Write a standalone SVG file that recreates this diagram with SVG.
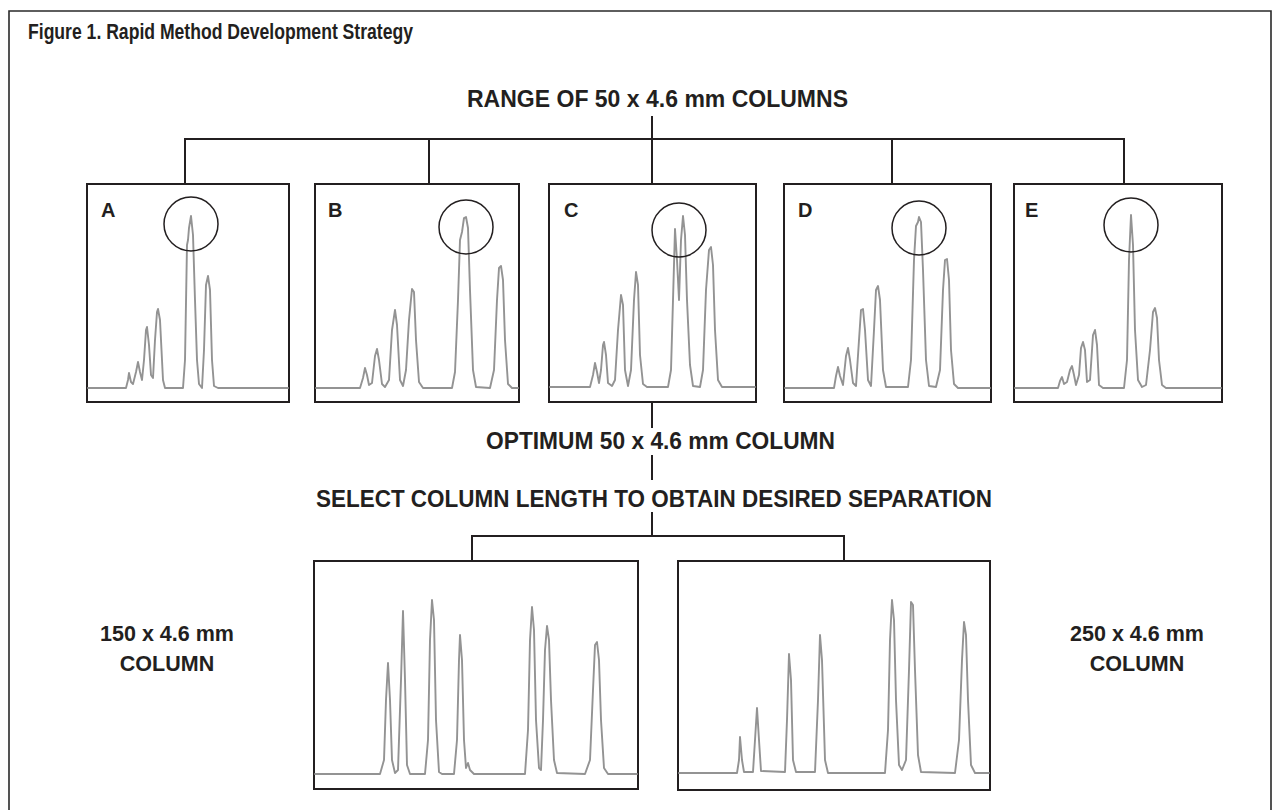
<svg xmlns="http://www.w3.org/2000/svg" width="1280" height="810" viewBox="0 0 1280 810">
<style>
.bg{fill:#ffffff}
.frame{fill:none;stroke:#2a2a2a;stroke-width:1.6}
.box{fill:#ffffff;stroke:#231f20;stroke-width:2}
.conn{fill:none;stroke:#231f20;stroke-width:2}
.trace{fill:none;stroke:#939393;stroke-width:1.9;stroke-linejoin:round;stroke-linecap:round}
.ring{fill:none;stroke:#231f20;stroke-width:1.5}
.hd{font-family:"Liberation Sans",Arial,sans-serif;font-weight:bold;fill:#231f20}
.lbl{font-family:"Liberation Sans",Arial,sans-serif;font-weight:bold;font-size:20px;fill:#231f20}
.side{font-family:"Liberation Sans",Arial,sans-serif;font-weight:bold;font-size:21.5px;fill:#231f20;text-anchor:middle}
</style>
<rect class="bg" x="0" y="0" width="1280" height="810"/>
<path class="frame" d="M9,812 V11 H1271 V812"/>
<text class="hd" x="28" y="39" font-size="22" textLength="385" lengthAdjust="spacingAndGlyphs">Figure 1.  Rapid Method Development Strategy</text>
<text class="hd" x="467" y="107" font-size="23" textLength="381" lengthAdjust="spacingAndGlyphs">RANGE OF 50 x 4.6 mm COLUMNS</text>
<text class="hd" x="486" y="449" font-size="23" textLength="349" lengthAdjust="spacingAndGlyphs">OPTIMUM 50 x 4.6 mm COLUMN</text>
<text class="hd" x="316" y="507" font-size="23" textLength="676" lengthAdjust="spacingAndGlyphs">SELECT COLUMN LENGTH TO OBTAIN DESIRED SEPARATION</text>

<g id="connectors">
<path class="conn" d="M652,116 V139 M185,139 H1124 M185,138 V184 M429,138 V184 M652,138 V184 M892,138 V184 M1124,138 V184"/>
<path class="conn" d="M652,402 V428 M652,455 V480 M652,512 V536 M472,536 H844 M472,535 V561 M844,535 V561"/>
</g>

<g id="nodeA">
<rect class="box" x="87" y="184" width="202" height="218"/>
<text class="lbl" x="101" y="217">A</text>
<path class="trace" d="M88,388 L126,388 L128,380 L129,373 L131,382 L133,384 L136,372 L138,362 L140,372 L142,380 L144,360 L146,330 L147,327 L149,345 L151,375 L153,378 L155,340 L157,312 L158,309 L160,320 L163,380 L165,388 L183,388 L185,360 L187,245 L188,240 L189,228 L191,216 L193,235 L195,300 L197,360 L199,384 L202,388 L204,350 L206,285 L208,276 L210,290 L212,360 L214,386 L218,388 L288,388"/>
<circle class="ring" cx="191" cy="224" r="27"/>
</g>

<g id="nodeB">
<rect class="box" x="315" y="184" width="204" height="218"/>
<text class="lbl" x="328" y="217">B</text>
<path class="trace" d="M316,388 L360,388 L363,378 L365,368 L367,375 L369,385 L372,383 L375,356 L377,349 L379,360 L382,384 L385,387 L389,380 L392,330 L395,310 L397,325 L400,380 L403,386 L406,370 L409,320 L412,289 L414,292 L416,340 L419,382 L423,388 L452,388 L455,372 L458,300 L460,240 L462,232 L464,218 L466,217 L468,228 L470,290 L473,370 L476,387 L490,388 L494,370 L497,300 L499,268 L501,266 L503,280 L505,340 L508,384 L512,388 L518,388"/>
<circle class="ring" cx="466" cy="227" r="27"/>
</g>

<g id="nodeC">
<rect class="box" x="549" y="184" width="207" height="218"/>
<text class="lbl" x="564" y="217">C</text>
<path class="trace" d="M550,387 L590,387 L593,375 L595,363 L597,372 L599,383 L601,370 L603,345 L604,342 L606,355 L608,383 L612,386 L615,380 L618,330 L621,295 L623,305 L625,370 L628,386 L631,370 L634,300 L636,272 L638,285 L640,355 L643,384 L647,387 L668,387 L671,370 L673,300 L675,229 L677,260 L679,300 L681,240 L683,216 L685,235 L687,300 L690,365 L693,386 L700,387 L703,370 L706,290 L709,250 L711,247 L713,265 L715,330 L718,380 L722,387 L755,387"/>
<circle class="ring" cx="679" cy="230" r="27"/>
</g>

<g id="nodeD">
<rect class="box" x="784" y="184" width="207" height="218"/>
<text class="lbl" x="798" y="217">D</text>
<path class="trace" d="M785,388 L834,388 L836,376 L838,367 L840,376 L843,385 L846,356 L848,348 L850,360 L853,383 L856,386 L859,340 L861,310 L863,309 L865,330 L868,380 L871,386 L874,330 L876,290 L878,286 L880,300 L883,370 L886,387 L908,387 L911,360 L914,260 L916,226 L918,222 L919,217 L921,222 L923,270 L926,360 L929,386 L936,387 L940,370 L943,290 L945,260 L947,259 L949,280 L951,350 L954,384 L958,388 L990,388"/>
<circle class="ring" cx="919" cy="228" r="27"/>
</g>

<g id="nodeE">
<rect class="box" x="1014" y="184" width="208" height="218"/>
<text class="lbl" x="1025" y="217">E</text>
<path class="trace" d="M1015,388 L1058,388 L1060,381 L1062,377 L1064,384 L1067,382 L1070,370 L1072,366 L1074,375 L1076,385 L1079,375 L1081,348 L1083,342 L1085,350 L1087,382 L1090,380 L1093,335 L1095,330 L1097,345 L1099,385 L1103,388 L1124,388 L1127,360 L1129,260 L1131,215 L1133,245 L1135,330 L1138,380 L1142,387 L1146,385 L1150,350 L1153,312 L1155,308 L1157,318 L1159,360 L1162,385 L1166,388 L1221,388"/>
<circle class="ring" cx="1131" cy="225" r="27"/>
</g>

<g id="node150">
<rect class="box" x="314" y="561" width="324" height="228"/>
<path class="trace" d="M315,774 L380,774 L384,760 L386,700 L388,663 L390,700 L392,760 L395,773 L398,770 L401,680 L403,611 L405,680 L407,765 L410,774 L425,774 L428,740 L430,640 L432,600 L434,620 L436,720 L439,772 L442,774 L454,774 L457,740 L459,660 L460,635 L462,660 L464,740 L466,768 L468,763 L470,770 L474,774 L525,774 L528,730 L530,640 L532,607 L534,630 L536,720 L539,768 L541,770 L543,720 L545,650 L547,626 L549,640 L551,700 L554,760 L557,773 L585,774 L590,760 L593,690 L595,645 L597,642 L599,660 L601,720 L604,768 L608,774 L637,774"/>
<text class="side" x="167" y="641">150 x 4.6 mm</text>
<text class="side" x="167" y="671">COLUMN</text>
</g>

<g id="node250">
<rect class="box" x="678" y="561" width="312" height="229"/>
<path class="trace" d="M679,773 L737,773 L739,760 L740,737 L742,760 L744,772 L753,772 L755,740 L757,708 L759,740 L761,771 L785,772 L787,720 L789,654 L791,680 L793,760 L796,772 L815,772 L818,700 L820,635 L822,660 L825,760 L828,773 L885,773 L888,730 L890,640 L892,600 L894,620 L896,700 L899,765 L902,770 L906,760 L909,670 L911,602 L913,605 L915,670 L918,755 L921,772 L955,773 L959,740 L962,660 L964,622 L966,635 L968,700 L971,765 L975,773 L989,773"/>
<text class="side" x="1137" y="641">250 x 4.6 mm</text>
<text class="side" x="1137" y="671">COLUMN</text>
</g>
</svg>
